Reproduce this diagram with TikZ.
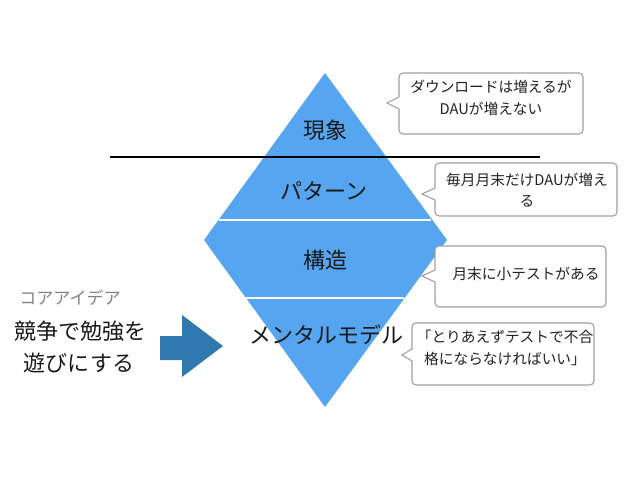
\documentclass[tikz,border=0pt]{standalone}
\usepackage{fontspec}
\setmainfont{Noto Sans CJK JP}
\definecolor{dia}{RGB}{86,165,240}
\definecolor{arr}{RGB}{47,120,176}
\definecolor{cbord}{RGB}{160,160,160}
\definecolor{coregray}{RGB}{130,130,130}
\definecolor{ctxt}{RGB}{34,34,34}
\newcommand\mycallout[6]{%
  \draw[cbox] (#1,#2) rectangle (#3,#4);
  \fill[white] (#1+1,#6-6) -- (#5,#6) -- (#1+1,#6+6) -- cycle;
  \draw[cline] (#1,#6-6) -- (#5,#6) -- (#1,#6+6);
}
\begin{document}
\begin{tikzpicture}[x=1pt,y=-1pt,
  cbox/.style={draw=cbord, fill=white, line width=1.1pt, rounded corners=4pt},
  cline/.style={draw=cbord, line width=1.1pt, line join=miter},
  lbl/.style={inner sep=0pt, font=\fontsize{22}{26}\selectfont, text=black!90},
  big/.style={inner sep=0pt, font=\fontsize{22}{26}\selectfont, text=black!90},
  core/.style={inner sep=0pt, font=\fontsize{17}{20}\selectfont, text=coregray},
  ctext/.style={inner sep=0pt, align=center, font=\fontsize{14.7}{21.5}\selectfont, text=ctxt}]
\useasboundingbox (0,0) rectangle (638,479);
% diamond
\fill[dia] (325,73) -- (447,240) -- (325,407) -- (204,240) -- cycle;
\draw[white, line width=1.2pt] (219,220) -- (431,220);
\draw[white, line width=1.2pt] (246,298) -- (404,298);
% black separator
\draw[black, line width=2.2pt] (110,157) -- (540,157);
% callouts
\mycallout{399}{73}{583}{134}{387}{103}
\mycallout{435}{163}{617}{216}{422}{194}
\mycallout{435}{246}{606}{307}{422}{276}
\mycallout{412}{323}{594}{385}{402}{355}
% arrow
\fill[arr] (160,336) -- (182,336) -- (182,315) -- (223,346) -- (182,377) -- (182,360) -- (160,360) -- cycle;
% labels
\node[lbl] (gen) at (325,130) {現象};
\node[lbl] (pat) at (324,191) {パターン};
\node[lbl] (kou) at (325,260) {構造};
\node[lbl] (men) at (326,335) {メンタルモデル};
\node[core] (core) at (70,298) {コアアイデア};
\node[big] (l1) at (81,331) {競争で勉強を};
\node[big] (l2) at (79,363) {遊びにする};
\node[ctext] (t1) at (491,98) {ダウンロードは増えるが\\DAUが増えない};
\node[ctext] (t2) at (527,190) {毎月月末だけDAUが増え\\る};
\node[ctext] (t3) at (526,274) {月末に小テストがある};
\node[ctext] (t4) at (505,348) {「とりあえずテストで不合\\格にならなければいい」};
\end{tikzpicture}
\end{document}
